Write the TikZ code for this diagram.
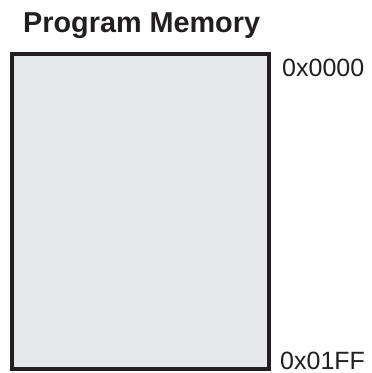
\documentclass[tikz,border=0pt]{standalone}
\usepackage{fontspec}
\setmainfont{Liberation Sans}
\definecolor{memfill}{HTML}{E6E7E8}
\definecolor{memline}{HTML}{231F20}
\begin{document}
\begin{tikzpicture}[x=1pt,y=1pt,
  memblock/.style={draw=memline,fill=memfill,line width=4pt},
  addr/.style={anchor=base west,inner sep=0pt,font=\fontsize{25}{30}\selectfont,text=memline},
  ttl/.style={anchor=base west,inner sep=0pt,font=\bfseries\fontsize{28.8}{34}\selectfont,text=memline}]
\useasboundingbox (0,0) rectangle (372,373);
\draw[memblock] (12,3.5) rectangle (269,319);
\node[ttl] (title) at (23,340) {Program Memory};
\node[addr] (top) at (282,296) {0x0000};
\node[addr] (bot) at (280,4) {0x01FF};
\end{tikzpicture}
\end{document}
